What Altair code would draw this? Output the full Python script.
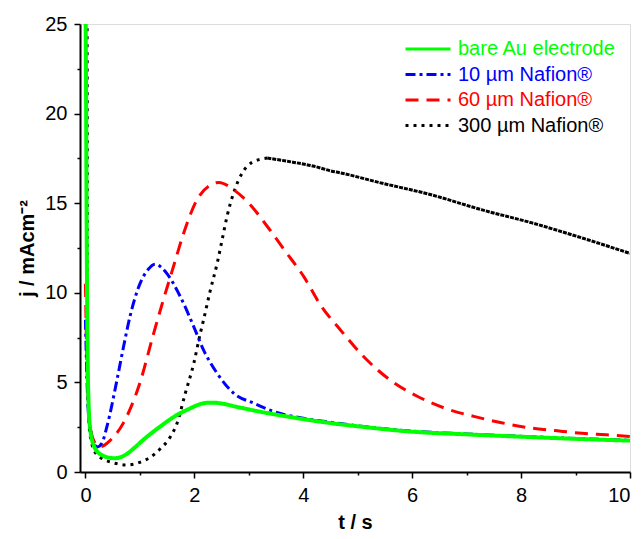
import altair as alt
import pandas as pd

series_names = ["bare Au electrode", "10 µm Nafion®", "60 µm Nafion®", "300 µm Nafion®"]
series_colors = ["#00ff00", "#0000ff", "#ff0000", "#000000"]
series_dashes = [[1, 0], [10, 4, 3, 4], [13, 8], [3, 5]]

green_t = [0.0, 0.01, 0.02, 0.03, 0.04, 0.06, 0.08, 0.1, 0.15, 0.2, 0.3, 0.4, 0.54, 0.7, 0.9,
           1.06, 1.37, 1.68, 1.86, 2.0, 2.1, 2.23, 2.35, 2.5, 2.8, 3.2, 3.6, 4.0, 4.5, 5.06, 6.0, 7.0,
           8.0, 9.0, 10.0]
green_j = [27, 22, 15, 10, 6.5, 3.6, 2.6, 2.1, 1.5, 1.2, 0.95, 0.82, 0.77, 0.9, 1.35,
           1.79, 2.53, 3.18, 3.46, 3.66, 3.78, 3.86, 3.87, 3.82, 3.62, 3.37, 3.15, 2.95, 2.73, 2.53,
           2.25, 2.1, 1.97, 1.85, 1.75]

blue_t = [0.0, 0.02, 0.05, 0.1, 0.15, 0.22, 0.3, 0.4, 0.57, 0.7, 0.82, 1.0, 1.15, 1.28, 1.4, 1.49,
          1.74, 1.99, 2.17, 2.42, 2.72, 3.09, 3.46, 4.0, 4.5, 5.0, 6.0, 7.0, 8.0, 9.0, 10.0]
blue_j = [8.5, 6.0, 3.5, 2.2, 1.6, 1.4, 1.6, 2.6, 5.0, 7.0, 8.7, 10.5, 11.3, 11.6, 11.4, 11.1,
          9.8, 8.1, 6.8, 5.5, 4.4, 3.84, 3.37, 3.0, 2.78, 2.58, 2.28, 2.12, 1.99, 1.87, 1.77]

red_t = [0.0, 0.02, 0.05, 0.1, 0.18, 0.26, 0.35, 0.45, 0.69, 1.0, 1.24, 1.43, 1.62, 1.8, 2.05, 2.29,
         2.45, 2.72, 2.97, 3.34, 3.65, 4.01, 4.32, 4.69, 5.12, 5.61, 6.11, 6.6, 7.15, 7.64, 8.14,
         8.63, 9.12, 9.61, 10.0]
red_j = [10.5, 7.0, 4.0, 2.3, 1.6, 1.41, 1.5, 1.75, 2.7, 4.97, 7.6, 9.6, 11.5, 13.3, 15.2, 16.0,
         16.16, 15.75, 15.1, 13.7, 12.4, 10.9, 9.3, 7.9, 6.4, 5.1, 4.2, 3.56, 3.09, 2.75, 2.47,
         2.31, 2.16, 2.07, 1.98]

black_rise_t = [0.03, 0.035, 0.04, 0.06, 0.1, 0.2, 0.32, 0.54, 0.76, 0.98, 1.19, 1.37, 1.56, 1.68,
                1.83, 1.99, 2.11, 2.17, 2.29, 2.42, 2.51, 2.6, 2.72, 2.88, 3.06, 3.34]
black_rise_j = [27, 15, 6, 3, 1.8, 1.0, 0.73, 0.49, 0.39, 0.52, 0.82, 1.28, 1.97, 2.7,
                4.35, 6.07, 7.75, 8.5, 10.1, 11.66, 12.96, 14.26, 15.57, 16.69, 17.28, 17.52]
black_decay_t = [3.34, 3.71, 4.2, 4.51, 4.69, 5.4, 6.35, 7.27, 8.2, 9.12, 10.0]
black_decay_j = [17.52, 17.34, 17.06, 16.8, 16.69, 16.15, 15.47, 14.64, 13.9, 13.06, 12.2]

x_major = [0, 2, 4, 6, 8, 10]
x_minor = [1, 3, 5, 7, 9]
y_major = [0, 5, 10, 15, 20, 25]
y_minor = [2.5, 7.5, 12.5, 17.5, 22.5]


def frame(name, t, j):
    return pd.DataFrame({"series": name, "t": t, "j": j})


df_green = frame(series_names[0], green_t, green_j)
df_blue = frame(series_names[1], blue_t, blue_j)
df_red = frame(series_names[2], red_t, red_j)
df_black = frame(series_names[3], black_rise_t, black_rise_j)
df_black2 = frame(series_names[3], black_decay_t, black_decay_j)

FONT = "Liberation Sans"

x_scale = alt.Scale(domain=[-0.1, 10], nice=False, zero=False)
y_scale = alt.Scale(domain=[0, 25], nice=False)

common_axis = dict(labelFontSize=20, labelFont=FONT, labelColor="black", labelPadding=7,
                   domainColor="black", domainWidth=2, tickColor="black", tickWidth=1.5, grid=False)

x_axis_major = alt.Axis(orient="bottom", values=x_major, tickSize=6,
                        title="t / s", titleFontWeight="bold", titleFontSize=20, titleFont=FONT,
                        titleColor="black", titleX=275, titleY=50, titleBaseline="middle",
                        **common_axis)
y_axis_major = alt.Axis(orient="left", values=y_major, tickSize=6,
                        title="j / mAcm⁻²", titleFontWeight="bold", titleFontSize=20, titleFont=FONT,
                        titleColor="black", titleX=-53, titleY=224, titleAngle=270,
                        titleAlign="center", titleBaseline="middle", **common_axis)
x_axis_minor = alt.Axis(orient="bottom", values=x_minor, tickSize=3, labels=False, title=None,
                        domain=False, tickColor="black", tickWidth=1.5, grid=False)
y_axis_minor = alt.Axis(orient="left", values=y_minor, tickSize=3, labels=False, title=None,
                        domain=False, tickColor="black", tickWidth=1.5, grid=False)

label_color_expr = (
    "datum.value == '" + series_names[0] + "' ? '" + series_colors[0] + "' : "
    "datum.value == '" + series_names[1] + "' ? '" + series_colors[1] + "' : "
    "datum.value == '" + series_names[2] + "' ? '" + series_colors[2] + "' : '" + series_colors[3] + "'"
)

legend = alt.Legend(
    title=None, orient="none", legendX=324, legendY=15,
    symbolType="stroke", symbolSize=2025, symbolStrokeWidth=3, clipHeight=20,
    labelFontSize=20, labelFont=FONT,
    labelColor=alt.ExprRef(label_color_expr), labelOffset=6, rowPadding=5.5,
    labelLimit=300,
)

color_enc = alt.Color("series:N", scale=alt.Scale(domain=series_names, range=series_colors), legend=legend)
dash_enc = alt.StrokeDash("series:N", scale=alt.Scale(domain=series_names, range=series_dashes),
                          legend=legend)


def series_layer(df, width):
    return alt.Chart(df).mark_line(clip=True, strokeWidth=width, interpolate="monotone").encode(
        x=alt.X("t:Q", scale=x_scale, axis=None),
        y=alt.Y("j:Q", scale=y_scale, axis=None),
        color=color_enc, strokeDash=dash_enc,
        order="t:Q",
    )


black_tail = alt.Chart(df_black2).mark_line(clip=True, color="black", strokeWidth=3,
                                            strokeDash=[4, 1], interpolate="monotone").encode(
    x=alt.X("t:Q", scale=x_scale, axis=None),
    y=alt.Y("j:Q", scale=y_scale, axis=None),
    order="t:Q",
)

axes_major = alt.Chart(df_black2).mark_line(opacity=0).encode(
    x=alt.X("t:Q", scale=x_scale, axis=x_axis_major),
    y=alt.Y("j:Q", scale=y_scale, axis=y_axis_major),
)
axes_minor = alt.Chart(df_black2).mark_line(opacity=0).encode(
    x=alt.X("t:Q", scale=x_scale, axis=x_axis_minor),
    y=alt.Y("j:Q", scale=y_scale, axis=y_axis_minor),
)

chart = alt.layer(
    axes_major, axes_minor,
    series_layer(df_black, 3), black_tail, series_layer(df_red, 3),
    series_layer(df_blue, 3), series_layer(df_green, 4),
).resolve_axis(x="independent", y="independent").properties(
    width=550, height=448,
    autosize=alt.AutoSizeParams(type="none"),
    padding={"left": 72, "top": 16, "right": 5, "bottom": 60},
).configure_view(stroke="black", strokeWidth=2).configure(background="white")

chart.save("out.html", embed_options={"renderer": "svg", "actions": False})
